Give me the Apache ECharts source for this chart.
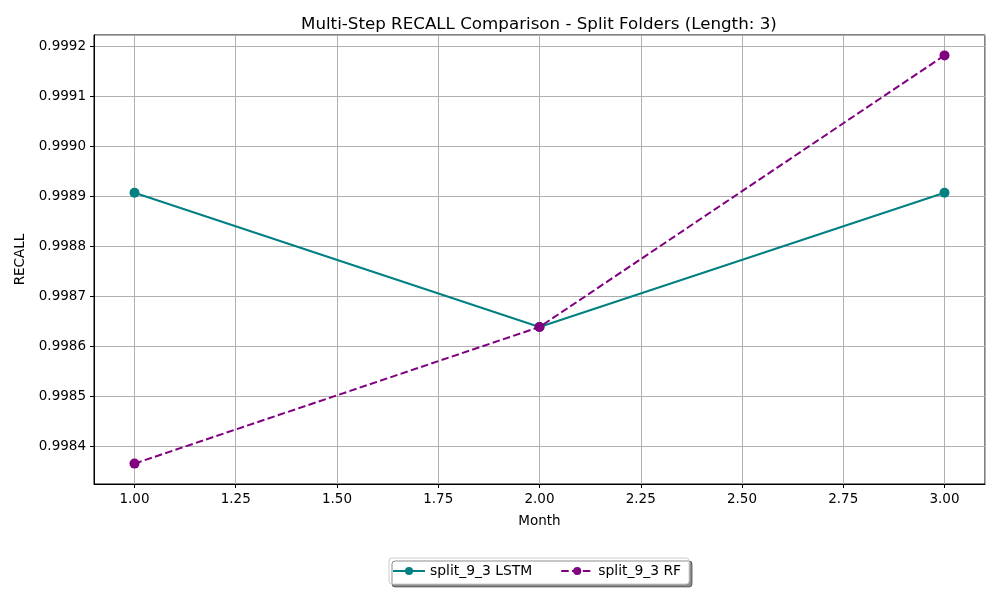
<!DOCTYPE html>
<html>
<head>
<meta charset="utf-8">
<script src="https://cdn.jsdelivr.net/npm/echarts@6/dist/echarts.min.js"></script>
<style>
html,body{margin:0;padding:0;background:#fff;}
#chart{width:1000px;height:600px;}
</style>
</head>
<body>
<div id="chart"></div>
<script>
const months = [1, 2, 3];
const lstmValues = [0.9989075, 0.9986387, 0.9989075];
const rfValues = [0.9983653, 0.9986387, 0.9991825];
const seriesNames = ['split_9_3 LSTM', 'split_9_3 RF'];
const titleText = 'Multi-Step RECALL Comparison - Split Folders (Length: 3)';

const allVals = lstmValues.concat(rfValues);
const dMin = Math.min.apply(null, allVals), dMax = Math.max.apply(null, allVals);
const pad = (dMax - dMin) * 0.05;
const yMin = dMin - pad, yMax = dMax + pad;
const xPad = (months[months.length - 1] - months[0]) * 0.05;

const font = 'DejaVu Sans';
const chart = echarts.init(document.getElementById('chart'), null, {renderer: 'canvas'});
chart.setOption({
  animation: false,
  backgroundColor: '#ffffff',
  textStyle: {fontFamily: font},
  title: {
    text: titleText,
    left: 296, top: 11,
    textStyle: {fontFamily: font, fontSize: 16.7, fontWeight: 'normal', color: '#000'}
  },
  grid: {left: 94, right: 15, top: 35, bottom: 116, show: true, borderColor: '#000', borderWidth: 1, backgroundColor: 'transparent'},
  legend: {
    bottom: 16, left: 389,
    itemWidth: 32, itemHeight: 10, itemGap: 28,
    padding: [6, 8, 6, 3],
    backgroundColor: '#fff', borderColor: '#cccccc', borderWidth: 1, borderRadius: 3,
    shadowColor: 'rgba(0,0,0,0.45)', shadowBlur: 0, shadowOffsetX: 3, shadowOffsetY: 3,
    textStyle: {fontFamily: font, fontSize: 13.9, color: '#000'},
    data: seriesNames
  },
  xAxis: {
    type: 'value', min: months[0] - xPad, max: months[months.length - 1] + xPad,
    minInterval: 0.25, maxInterval: 0.25,
    name: 'Month', nameLocation: 'middle', nameGap: 30,
    nameTextStyle: {fontFamily: font, fontSize: 13.5, color: '#000'},
    axisLine: {show: true, onZero: false, lineStyle: {color: '#000', width: 1}},
    axisTick: {show: true, inside: false, length: 4, lineStyle: {color: '#000'}},
    axisLabel: {showMinLabel: false, showMaxLabel: false, fontFamily: font, fontSize: 13.5, color: '#000', margin: 8,
      formatter: v => v.toFixed(2)},
    splitLine: {show: true, lineStyle: {color: '#b0b0b0', width: 1}}
  },
  yAxis: {
    type: 'value', min: yMin, max: yMax,
    minInterval: 0.0001, maxInterval: 0.0001,
    name: 'RECALL', nameLocation: 'middle', nameGap: 64, nameRotate: 90,
    nameTextStyle: {fontFamily: font, fontSize: 13.5, color: '#000'},
    axisLine: {show: true, onZero: false, lineStyle: {color: '#000', width: 1}},
    axisTick: {show: true, inside: false, length: 4, lineStyle: {color: '#000'}},
    axisLabel: {showMinLabel: false, showMaxLabel: false, fontFamily: font, fontSize: 13.5, color: '#000', margin: 8,
      formatter: v => v.toFixed(4)},
    splitLine: {show: true, lineStyle: {color: '#b0b0b0', width: 1}}
  },
  series: [
    {
      name: seriesNames[0], type: 'line',
      data: months.map((m, i) => [m, lstmValues[i]]),
      color: '#008080',
      symbol: 'circle', symbolSize: 10,
      lineStyle: {color: '#008080', width: 2},
      itemStyle: {color: '#008080'},
      z: 3
    },
    {
      name: seriesNames[1], type: 'line',
      data: months.map((m, i) => [m, rfValues[i]]),
      color: '#800080',
      symbol: 'circle', symbolSize: 10,
      lineStyle: {color: '#800080', width: 2, type: [7.5, 3.3]},
      itemStyle: {color: '#800080'},
      z: 4
    }
  ]
});
</script>
</body>
</html>
